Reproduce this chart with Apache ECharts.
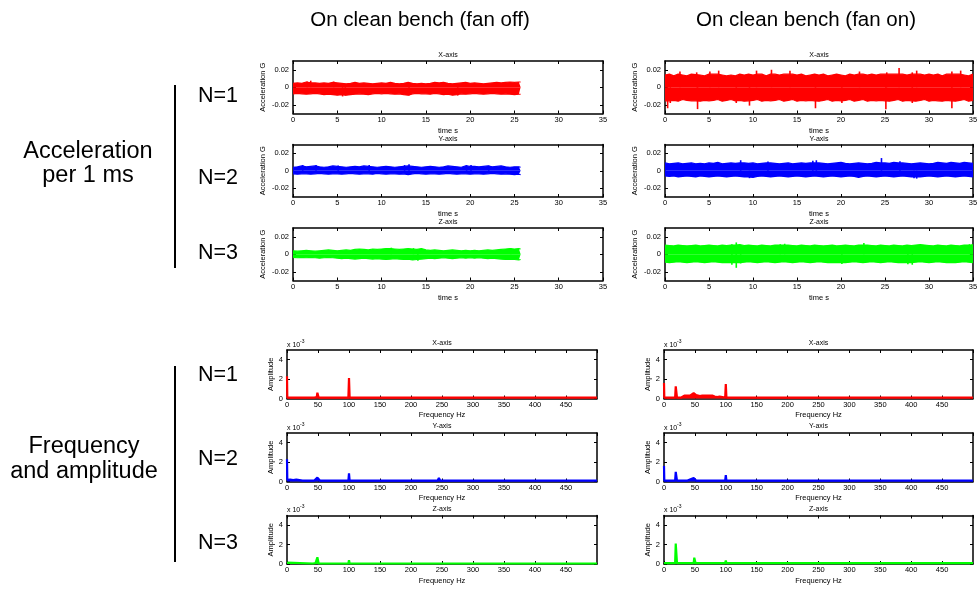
<!DOCTYPE html>
<html>
<head>
<meta charset="utf-8">
<script src="https://cdn.jsdelivr.net/npm/echarts@6/dist/echarts.min.js"></script>
<style>html,body{margin:0;padding:0;background:#fff}#c{width:978px;height:593px}</style>
</head>
<body>
<div id="c"></div>
<script>
// ---------- DATA ----------
const columnTitles = ['On clean bench (fan off)', 'On clean bench (fan on)'];
const axisTitles = ['X-axis', 'Y-axis', 'Z-axis'];
const rowLabels = ['N=1', 'N=2', 'N=3'];
const timeTicksY = [-0.02, 0, 0.02];
const freqTicksY = [0, 2, 4];

// time series envelopes (G), bins every 0.5 s; fan-off record ends at 25.7 s
const offEndTime = 25.7;
const offX_up = [0.0045,0.005,0.0045,0.006,0.005,0.005,0.0045,0.005,0.0045,0.0055,
  0.005,0.0045,0.004,0.0045,0.0055,0.0045,0.005,0.0045,0.004,0.0045,
  0.005,0.0045,0.0055,0.0045,0.004,0.0045,0.0055,0.0045,0.004,0.0045,
  0.004,0.0045,0.0055,0.005,0.0055,0.0045,0.004,0.0045,0.005,0.0055,
  0.0045,0.005,0.0045,0.004,0.0045,0.005,0.0055,0.005,0.0055,0.006,
  0.0055,0.006,0.006];
const offX_lo = [-0.0075,-0.007,-0.0075,-0.008,-0.0075,-0.007,-0.0075,-0.0085,-0.008,-0.0085,
  -0.009,-0.0085,-0.009,-0.0085,-0.008,-0.0075,-0.008,-0.0085,-0.0075,-0.007,
  -0.0075,-0.007,-0.0075,-0.008,-0.0075,-0.0085,-0.009,-0.0075,-0.007,-0.0075,
  -0.0075,-0.008,-0.007,-0.0075,-0.0085,-0.008,-0.009,-0.0085,-0.0075,-0.008,
  -0.0075,-0.007,-0.0075,-0.008,-0.0075,-0.007,-0.0075,-0.008,-0.0075,-0.008,
  -0.0085,-0.008,-0.008];
const offX_spikes = [[2.0,0.0075],[1.6,0.0065],[4.6,0.0065],[5.6,-0.0105],[5.9,-0.0095],[13.1,-0.0095],[18.6,-0.0095]];

const offY_up = [0.004,0.0045,0.0055,0.0045,0.005,0.0055,0.0045,0.004,0.0045,0.0055,
  0.005,0.0045,0.004,0.0045,0.005,0.0045,0.0055,0.005,0.0045,0.004,
  0.0045,0.005,0.0045,0.004,0.0045,0.005,0.0055,0.005,0.0045,0.004,
  0.0045,0.005,0.0045,0.004,0.0045,0.0055,0.005,0.0045,0.004,0.0055,
  0.005,0.005,0.0045,0.005,0.0055,0.0045,0.005,0.0055,0.0045,0.004,
  0.0045,0.0045,0.004];
const offY_lo = [-0.0035,-0.004,-0.0035,-0.0035,-0.004,-0.0035,-0.003,-0.0035,-0.004,-0.0035,
  -0.0035,-0.004,-0.0035,-0.003,-0.0035,-0.004,-0.0035,-0.0035,-0.004,-0.003,
  -0.0035,-0.004,-0.0035,-0.0035,-0.004,-0.0035,-0.0045,-0.0035,-0.003,-0.0035,
  -0.004,-0.0035,-0.0035,-0.004,-0.0035,-0.003,-0.0035,-0.004,-0.0035,-0.0035,
  -0.004,-0.0035,-0.0035,-0.004,-0.0035,-0.003,-0.0035,-0.004,-0.0035,-0.004,
  -0.0045,-0.004,-0.0045];
const offY_spikes = [[1.1,0.0065],[2.6,0.0065],[5.1,0.006],[8.6,0.0065],[12.6,0.0065],[13.1,0.0075],[19.6,0.0065],[20.1,0.0065],[22.1,0.006]];

const offZ_up = [0.004,0.0035,0.004,0.0045,0.004,0.0035,0.004,0.0045,0.005,0.0045,
  0.004,0.0045,0.005,0.0045,0.0055,0.006,0.0055,0.005,0.006,0.0055,
  0.006,0.0065,0.0065,0.006,0.0055,0.006,0.0065,0.006,0.0055,0.0065,
  0.005,0.0045,0.005,0.0045,0.004,0.0045,0.005,0.0045,0.004,0.0045,
  0.004,0.0045,0.004,0.0045,0.005,0.0045,0.005,0.0055,0.006,0.0065,
  0.006,0.0065,0.006];
const offZ_lo = [-0.0035,-0.004,-0.0035,-0.004,-0.0035,-0.004,-0.0045,-0.004,-0.0035,-0.004,
  -0.0045,-0.005,-0.0045,-0.005,-0.0055,-0.005,-0.0045,-0.005,-0.0055,-0.005,
  -0.0055,-0.006,-0.0055,-0.005,-0.0055,-0.006,-0.0055,-0.0065,-0.006,-0.0055,
  -0.005,-0.0045,-0.005,-0.0045,-0.004,-0.0045,-0.005,-0.0045,-0.004,-0.0045,
  -0.004,-0.0045,-0.004,-0.0045,-0.005,-0.0045,-0.005,-0.0055,-0.006,-0.0055,
  -0.006,-0.0065,-0.006];
const offZ_spikes = [[11.1,0.0075],[13.6,0.007],[14.1,-0.0075],[24.6,0.007]];

const onX_up = [0.014,0.015,0.013,0.015,0.014,0.013,0.015,0.0145,0.014,0.013,
  0.015,0.015,0.015,0.014,0.013,0.014,0.013,0.015,0.014,0.015,
  0.014,0.015,0.015,0.013,0.015,0.015,0.014,0.015,0.015,0.015,
  0.014,0.015,0.013,0.014,0.015,0.014,0.015,0.013,0.014,0.015,
  0.014,0.013,0.015,0.014,0.015,0.015,0.014,0.015,0.014,0.015,
  0.015,0.015,0.015,0.015,0.015,0.014,0.015,0.015,0.015,0.014,
  0.015,0.014,0.015,0.013,0.015,0.015,0.015,0.015,0.014,0.013,0.015];
const onX_lo = [-0.0155,-0.0155,-0.015,-0.016,-0.014,-0.015,-0.0155,-0.0155,-0.016,-0.015,
  -0.0155,-0.015,-0.014,-0.016,-0.015,-0.014,-0.0155,-0.015,-0.016,-0.0155,
  -0.015,-0.014,-0.016,-0.015,-0.0155,-0.015,-0.014,-0.016,-0.015,-0.014,
  -0.016,-0.015,-0.0155,-0.015,-0.0155,-0.016,-0.015,-0.014,-0.016,-0.015,
  -0.0155,-0.015,-0.014,-0.016,-0.015,-0.014,-0.016,-0.015,-0.0155,-0.015,
  -0.0155,-0.016,-0.015,-0.014,-0.016,-0.015,-0.0155,-0.016,-0.015,-0.014,
  -0.016,-0.015,-0.0155,-0.016,-0.015,-0.0155,-0.016,-0.015,-0.014,-0.016,-0.015];
const onX_spikes = [[1.7,0.018],[3.6,0.017],[5.1,0.018],[6.1,0.019],[10.4,0.019],[12.1,0.02],[14.2,0.019],
  [22.1,0.018],[25.2,0.017],[26.6,0.022],[28.1,0.017],[28.6,0.019],[32.6,0.018],[33.6,0.019],
  [0.3,-0.024],[0.6,-0.018],[3.7,-0.025],[8.1,-0.018],[9.6,-0.021],[17.1,-0.024],[20.1,-0.018],
  [25.1,-0.025],[28.1,-0.018],[32.6,-0.024]];

const onY_up = [0.009,0.008,0.0085,0.009,0.008,0.0085,0.009,0.008,0.0085,0.008,
  0.009,0.0085,0.0095,0.008,0.0085,0.009,0.0085,0.009,0.009,0.0085,
  0.009,0.008,0.0085,0.009,0.009,0.0085,0.008,0.0085,0.009,0.008,
  0.0085,0.009,0.0085,0.009,0.009,0.009,0.0085,0.008,0.0085,0.009,
  0.0095,0.0085,0.008,0.0085,0.009,0.0085,0.008,0.0085,0.0095,0.009,
  0.009,0.0085,0.0095,0.009,0.009,0.0085,0.008,0.0085,0.009,0.0085,
  0.008,0.0085,0.0095,0.009,0.0085,0.0095,0.009,0.0085,0.0095,0.009,0.0085];
const onY_lo = [-0.006,-0.0065,-0.006,-0.007,-0.0065,-0.006,-0.0065,-0.007,-0.006,-0.0065,
  -0.007,-0.0065,-0.006,-0.0065,-0.007,-0.0065,-0.006,-0.0065,-0.007,-0.007,
  -0.0075,-0.0065,-0.006,-0.0065,-0.007,-0.0065,-0.006,-0.0065,-0.007,-0.0065,
  -0.006,-0.0065,-0.007,-0.0065,-0.006,-0.0065,-0.007,-0.0065,-0.006,-0.0065,
  -0.007,-0.0065,-0.006,-0.0065,-0.0075,-0.0065,-0.006,-0.0065,-0.007,-0.0065,
  -0.006,-0.0065,-0.007,-0.0065,-0.006,-0.0065,-0.007,-0.007,-0.007,-0.0065,
  -0.006,-0.0065,-0.007,-0.0065,-0.006,-0.0065,-0.007,-0.0065,-0.006,-0.0065,-0.007];
const onY_spikes = [[8.6,0.012],[11.7,0.0105],[16.8,0.0115],[17.2,0.012],[24.6,0.0145],[26.7,0.011],
  [9.6,-0.0085],[28.3,-0.0085],[28.6,-0.009]];

const onZ_up = [0.0105,0.01,0.0095,0.0105,0.01,0.0095,0.01,0.0105,0.0095,0.01,
  0.0105,0.01,0.0095,0.0105,0.01,0.0105,0.0105,0.011,0.01,0.0105,
  0.01,0.0095,0.0105,0.01,0.0095,0.0105,0.0105,0.0105,0.0105,0.01,
  0.0095,0.0105,0.01,0.0095,0.0105,0.01,0.0095,0.01,0.0105,0.0095,
  0.01,0.0105,0.01,0.0095,0.0105,0.0105,0.0105,0.01,0.0095,0.0105,
  0.01,0.0095,0.0105,0.01,0.0095,0.0105,0.01,0.0105,0.011,0.0105,
  0.01,0.0095,0.0105,0.01,0.0095,0.0105,0.01,0.0095,0.0105,0.0105,0.0105];
const onZ_lo = [-0.009,-0.0095,-0.009,-0.0085,-0.009,-0.0095,-0.009,-0.0085,-0.009,-0.0095,
  -0.009,-0.0085,-0.009,-0.0095,-0.0095,-0.0095,-0.0095,-0.0095,-0.009,-0.0085,
  -0.009,-0.0095,-0.009,-0.0085,-0.009,-0.0095,-0.009,-0.0085,-0.009,-0.0095,
  -0.009,-0.0085,-0.009,-0.0095,-0.009,-0.0085,-0.009,-0.0095,-0.0095,-0.0095,
  -0.0095,-0.0095,-0.009,-0.0085,-0.009,-0.0095,-0.009,-0.0085,-0.009,-0.0095,
  -0.009,-0.0085,-0.009,-0.0095,-0.0095,-0.0095,-0.0095,-0.009,-0.0085,-0.009,
  -0.0095,-0.009,-0.0085,-0.009,-0.0095,-0.0095,-0.0095,-0.009,-0.0085,-0.009,-0.0095];
const onZ_spikes = [[7.6,0.0115],[8.1,0.0135],[13.1,0.0115],[13.6,0.012],[22.6,0.013],[34.6,0.0115],[34.9,0.0115],
  [7.6,-0.012],[8.1,-0.0155],[8.6,-0.0105],[20.1,-0.011],[27.6,-0.0115],[28.1,-0.012]];

// spectra: [frequency Hz, amplitude x10^-3]
const fOffX = [[0,2.3],[0.5,0.1],[17,0.1],[19,0.2],[21,0.1],[44,0.1],[46,0.2],[48,0.15],[49,0.6],[50,0.5],[51,0.1],[87,0.1],[89,0.3],[91,0.1],[99,0.1],[100,2.1],[101,0.1],[213,0.1],[215,0.2],[217,0.1],[500,0.1]];
const fOnX = [[0,1.6],[0.5,0.1],[18,0.1],[19,1.25],[20,1.2],[21,0.1],[28,0.1],[30,0.25],[33,0.3],[35,0.4],[37,0.3],[40,0.45],[42,0.3],[45,0.35],[48,0.55],[50,0.6],[52,0.35],[55,0.3],[58,0.25],[60,0.4],[62,0.3],[65,0.35],[68,0.3],[72,0.3],[75,0.25],[78,0.3],[82,0.2],[86,0.15],[90,0.2],[92,0.1],[99,0.1],[100,1.5],[101,0.1],[214,0.1],[215,0.15],[216,0.1],[500,0.1]];
const fOffY = [[0,2.3],[0.5,0.15],[5,0.2],[10,0.15],[15,0.2],[20,0.15],[25,0.1],[44,0.1],[46,0.25],[49,0.4],[51,0.2],[53,0.1],[99,0.1],[100,0.85],[101,0.1],[121,0.1],[123,0.2],[125,0.1],[243,0.1],[245,0.35],[247,0.1],[500,0.1]];
const fOnY = [[0,1.6],[0.5,0.1],[18,0.1],[19,1.0],[20,0.95],[21,0.1],[38,0.1],[40,0.3],[42,0.2],[45,0.25],[48,0.35],[50,0.3],[52,0.1],[74,0.1],[75,0.2],[76,0.1],[99,0.1],[100,0.65],[101,0.1],[248,0.1],[250,0.15],[252,0.1],[500,0.1]];
const fOffZ = [[0,0.15],[0.5,0.05],[42,0.05],[44,0.25],[46,0.1],[49,0.7],[50,0.6],[51,0.05],[80,0.05],[82,0.15],[84,0.05],[99,0.05],[100,0.4],[101,0.05],[500,0.05]];
const fOnZ = [[0,0.1],[18,0.1],[19,2.1],[20,2.0],[21,0.1],[38,0.1],[40,0.25],[42,0.1],[48,0.1],[49,0.65],[50,0.6],[51,0.1],[74,0.1],[75,0.2],[76,0.1],[99,0.1],[100,0.35],[101,0.1],[500,0.1]];

// ---------- LAYOUT / STYLE ----------
const colors = ['#ff0000', '#0000ff', '#00ff00'];
const FONT = '"Liberation Sans", Arial, sans-serif';
const timeLayout = { left: [293, 665], width: [310, 308], top: [61, 144.5, 228], height: 52.5 };
const freqLayout = { left: [287, 664], width: [310, 309], top: [350, 433, 515.5], height: 48.5 };

function binTimes(n, last) {
  const t = [];
  for (let k = 0; k < n; k++) t.push(k * 0.5);
  if (last !== undefined) t[n - 1] = last;
  return t;
}

const timePanels = [
  [[offX_up, offX_lo, offX_spikes], [offY_up, offY_lo, offY_spikes], [offZ_up, offZ_lo, offZ_spikes]],
  [[onX_up, onX_lo, onX_spikes], [onY_up, onY_lo, onY_spikes], [onZ_up, onZ_lo, onZ_spikes]]
];
const freqPanels = [[fOffX, fOffY, fOffZ], [fOnX, fOnY, fOnZ]];

const grids = [], xAxes = [], yAxes = [], series = [], graphics = [];
const tickStyle = { show: true, inside: true, length: 3, lineStyle: { color: '#000', width: 1 } };
const lineStyleAx = { show: true, onZero: false, lineStyle: { color: '#000', width: 1.5 } };
const labelStyle = { color: '#000', fontSize: 7.5, fontFamily: FONT };

function addGrid(left, top, width, height, kind) {
  const gi = grids.length;
  grids.push({ left, top, width, height, show: false, containLabel: false, outerBoundsMode: 'none' });
  const isTime = kind === 'time';
  const xBase = {
    type: 'value', gridIndex: gi,
    min: 0, max: isTime ? 35 : 500, interval: isTime ? 5 : 50,
    axisLine: lineStyleAx, axisTick: tickStyle, splitLine: { show: false }
  };
  xAxes.push(Object.assign({}, xBase, {
    position: 'bottom',
    axisLabel: Object.assign({ margin: 2, showMaxLabel: isTime }, labelStyle),
    name: isTime ? 'time s' : 'Frequency Hz', nameLocation: 'middle', nameGap: isTime ? 13 : 12.5,
    nameTextStyle: labelStyle
  }));
  xAxes.push(Object.assign({}, xBase, { position: 'top', axisLabel: { show: false } }));
  const yVals = isTime ? timeTicksY : freqTicksY;
  const yBase = {
    type: 'value', gridIndex: gi,
    min: isTime ? -0.03 : 0, max: isTime ? 0.03 : 5,
    axisLine: lineStyleAx,
    axisTick: Object.assign({}, tickStyle, { customValues: yVals }),
    splitLine: { show: false }
  };
  yAxes.push(Object.assign({}, yBase, {
    position: 'left',
    axisLabel: Object.assign({ margin: 4, customValues: yVals }, labelStyle),
    name: isTime ? 'Acceleration G' : 'Amplitude', nameLocation: 'middle', nameRotate: 90,
    nameGap: isTime ? 26 : 12, nameTextStyle: labelStyle
  }));
  yAxes.push(Object.assign({}, yBase, { position: 'right', axisLabel: { show: false } }));
  return gi;
}

function smallText(text, x, y, size, align) {
  graphics.push({ type: 'text', x, y, style: { text, font: size + 'px ' + FONT, fill: '#000',
    textAlign: align || 'center', textVerticalAlign: 'middle', verticalAlign: 'middle' } });
}

for (let c = 0; c < 2; c++) {
  for (let r = 0; r < 3; r++) {
    const L = timeLayout;
    const gi = addGrid(L.left[c], L.top[r], L.width[c], L.height, 'time');
    const [up, lo, spikes] = timePanels[c][r];
    const t = binTimes(up.length, c === 0 ? offEndTime : undefined);
    [up, lo].forEach(arr => {
      series.push({
        type: 'line', xAxisIndex: gi * 2, yAxisIndex: gi * 2, symbol: 'none', silent: true,
        data: arr.map((v, k) => [t[k], v]),
        lineStyle: { color: colors[r], width: 1.2 },
        areaStyle: { color: colors[r], opacity: 1, origin: 0 }
      });
    });
    series.push({
      type: 'bar', xAxisIndex: gi * 2, yAxisIndex: gi * 2, silent: true,
      barWidth: 1.6, data: spikes, itemStyle: { color: colors[r] }
    });
    smallText(axisTitles[r], L.left[c] + L.width[c] / 2, L.top[r] - 5.5, 7);
  }
  for (let r = 0; r < 3; r++) {
    const L = freqLayout;
    const gi = addGrid(L.left[c], L.top[r], L.width[c], L.height, 'freq');
    series.push({
      type: 'line', xAxisIndex: gi * 2, yAxisIndex: gi * 2, symbol: 'none', silent: true,
      data: freqPanels[c][r],
      lineStyle: { color: colors[r], width: 2.2 },
      areaStyle: { color: colors[r], opacity: 1, origin: 0 }
    });
    smallText(axisTitles[r], L.left[c] + L.width[c] / 2, L.top[r] - 6.5, 7);
    smallText('x 10', L.left[c], L.top[r] - 5, 7, 'left');
    smallText('-3', L.left[c] + 13, L.top[r] - 8.5, 5, 'left');
  }
}

// headings and row labels
smallText(columnTitles[0], 420, 20, 20.5);
smallText(columnTitles[1], 806, 20, 20.5);
smallText('Acceleration', 88, 152, 23.5);
smallText('per 1 ms', 88, 176, 23.5);
smallText('Frequency', 84, 447, 23.5);
smallText('and amplitude', 84, 472, 23.5);
[96, 178, 253].forEach((y, i) => smallText(rowLabels[i], 218, y, 21.5));
[375, 459, 543].forEach((y, i) => smallText(rowLabels[i], 218, y, 21.5));
graphics.push({ type: 'line', shape: { x1: 175, y1: 85, x2: 175, y2: 268 }, style: { stroke: '#000', lineWidth: 2 } });
graphics.push({ type: 'line', shape: { x1: 175, y1: 366, x2: 175, y2: 562 }, style: { stroke: '#000', lineWidth: 2 } });

const chart = echarts.init(document.getElementById('c'), null, { renderer: 'canvas' });
chart.setOption({
  animation: false,
  backgroundColor: '#fff',
  textStyle: { fontFamily: FONT },
  grid: grids, xAxis: xAxes, yAxis: yAxes, series, graphic: graphics
});
</script>
</body>
</html>
